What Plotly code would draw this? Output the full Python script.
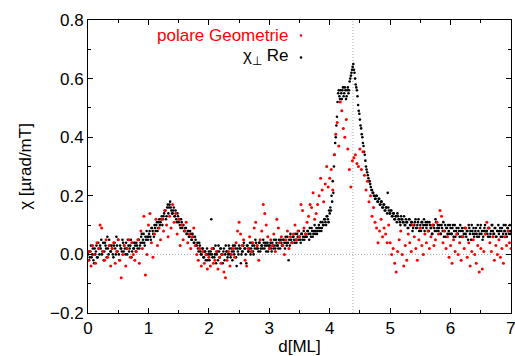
import numpy as np
import plotly.graph_objects as go

# ---------------- data ----------------
# chi_perp Re, sampled on d = 0.00, 0.02, ... 7.00
black_start_a, black_step = 0.0, 0.02
black_chi_a = [
    0.00, -0.02, 0.01, -0.01, 0.02, -0.03, 0.00, 0.03, -0.01, 0.02,
    0.03, 0.05, 0.01, -0.02, 0.04, 0.02, 0.06, 0.00, 0.03, 0.01,
    0.02, -0.01, 0.04, 0.00, 0.03, 0.05, -0.02, 0.02, 0.01, 0.04,
    0.03, 0.00, 0.02, 0.05, 0.01, 0.03, -0.01, 0.04, 0.02, 0.03,
    0.04, 0.02, 0.05, 0.03, 0.06, 0.04, 0.07, 0.03, 0.05, 0.06,
    0.06, 0.08, 0.05, 0.09, 0.07, 0.10, 0.08, 0.11, 0.09, 0.12,
    0.11, 0.13, 0.12, 0.14, 0.15, 0.13, 0.17, 0.16, 0.18, 0.15,
    0.14, 0.16, 0.13, 0.12, 0.14, 0.11, 0.10, 0.12, 0.09, 0.10,
    0.08, 0.09, 0.07, 0.08, 0.06, 0.07, 0.05, 0.06, 0.04, 0.05,
    0.03, 0.02, 0.04, 0.01, 0.00, 0.02, -0.01, 0.01, 0.00, -0.02,
    0.01, 0.00, 0.12, -0.01, 0.02, 0.00, -0.03, 0.01, 0.03, -0.01,
    0.02, 0.00, 0.01, -0.02, 0.03, 0.01, 0.00, 0.02, -0.01, 0.01,
    0.03, 0.00, 0.02, -0.04, 0.01, 0.03, 0.02, 0.00, 0.01, 0.04,
    0.02, -0.03, 0.03, 0.01, 0.04, 0.02, 0.03, 0.00, 0.02, 0.04,
    0.03, 0.01, 0.04, 0.02, 0.03, 0.05, 0.02, 0.04, 0.03, 0.01,
    0.02, 0.04, 0.01, 0.03, 0.05, 0.02, 0.04, 0.03, 0.05, 0.02,
    0.04, 0.03, 0.05, 0.02, 0.04, 0.06, -0.02, 0.03, 0.05, 0.04,
    0.06, 0.04, 0.05, 0.07, 0.05, 0.06, 0.04, 0.07, 0.06, 0.05,
    0.07, 0.06, 0.08, 0.05, 0.07, 0.09, 0.06, 0.08, 0.07, 0.09,
    0.08, 0.10, 0.09, 0.08, 0.11, 0.10, 0.12, 0.10, 0.13, 0.11,
    0.14, 0.15, 0.18, 0.21, 0.34, 0.40, 0.47, 0.55, 0.54, 0.56,
    0.53, 0.57, 0.55, 0.56, 0.54, 0.57, 0.56, 0.60, 0.62, 0.64,
    0.63, 0.60, 0.57, 0.54, 0.49, 0.46, 0.43, 0.40, 0.37, 0.34,
    0.30, 0.28, 0.26, 0.25, 0.23, 0.22, 0.21, 0.20, 0.19, 0.20,
    0.18, 0.19, 0.17, 0.18, 0.16, 0.17, 0.15, 0.16, 0.21, 0.15,
    0.14, 0.15, 0.13, 0.14, 0.12, 0.13, 0.14, 0.12, 0.11, 0.13,
    0.12, 0.11, 0.10, 0.12, 0.11, 0.09, 0.12, 0.10, 0.11, 0.09,
    0.10, 0.12, 0.09, 0.11, 0.08, 0.10, 0.11, 0.09, 0.12, 0.10,
    0.09, 0.11, 0.08, 0.10, 0.09, 0.07, 0.10, 0.08, 0.11, 0.09,
    0.08, 0.10, 0.07, 0.09, 0.11, 0.08, 0.06, 0.09, 0.10, 0.07,
    0.09, 0.07, 0.10, 0.08, 0.06, 0.09, 0.07, 0.08, 0.10, 0.06,
    0.08, 0.07, 0.09, 0.06, 0.08, 0.10, 0.07, 0.05, 0.08, 0.09,
    0.07, 0.09, 0.06, 0.08, 0.07, 0.10, 0.08, 0.06, 0.09, 0.07,
    0.08, 0.06, 0.09, 0.07, 0.10, 0.08, 0.07, 0.09, 0.06, 0.08,
    0.07, 0.09, 0.08, 0.06, 0.10, 0.08, 0.07, 0.09, 0.08, 0.10, 0.07,
]
# chi_perp Re, interleaved samples on d = 0.01, 0.03, ... 6.99
black_start_b = 0.01
black_chi_b = [
    0.01, -0.01, 0.03, 0.00, -0.02, 0.02, 0.01, -0.01, 0.04, 0.00,
    0.02, 0.00, 0.04, 0.01, 0.03, -0.01, 0.02, 0.05, 0.01, 0.03,
    0.00, 0.03, 0.02, 0.06, 0.01, 0.00, 0.03, 0.02, 0.05, 0.01,
    0.02, 0.04, 0.00, 0.03, 0.02, 0.05, 0.01, 0.02, 0.04, 0.01,
    0.03, 0.05, 0.02, 0.04, 0.07, 0.05, 0.04, 0.06, 0.08, 0.05,
    0.07, 0.06, 0.09, 0.08, 0.06, 0.09, 0.10, 0.08, 0.11, 0.10,
    0.12, 0.10, 0.13, 0.15, 0.12, 0.16, 0.14, 0.17, 0.16, 0.14,
    0.15, 0.13, 0.15, 0.11, 0.13, 0.12, 0.09, 0.11, 0.10, 0.08,
    0.09, 0.07, 0.08, 0.06, 0.08, 0.05, 0.07, 0.04, 0.06, 0.03,
    0.04, 0.01, 0.03, 0.00, 0.02, -0.01, 0.01, -0.02, 0.02, 0.00,
    -0.02, 0.01, 0.00, 0.02, -0.01, 0.03, 0.00, -0.02, 0.01, 0.02,
    0.00, -0.03, 0.02, 0.00, 0.01, -0.01, 0.03, 0.00, 0.02, -0.02,
    0.01, 0.03, -0.01, 0.02, 0.00, 0.02, -0.03, 0.01, 0.03, 0.02,
    0.00, 0.03, 0.01, 0.02, 0.00, 0.04, 0.01, 0.03, 0.05, 0.02,
    0.02, 0.04, 0.01, 0.03, 0.02, 0.04, 0.03, 0.01, 0.04, 0.03,
    0.03, 0.02, 0.04, 0.02, 0.03, 0.05, 0.03, 0.02, 0.04, 0.05,
    0.03, 0.05, 0.04, 0.06, 0.03, 0.04, 0.05, 0.07, 0.04, 0.06,
    0.05, 0.07, 0.04, 0.06, 0.08, 0.05, 0.07, 0.05, 0.08, 0.06,
    0.06, 0.08, 0.07, 0.09, 0.06, 0.08, 0.07, 0.10, 0.08, 0.07,
    0.09, 0.08, 0.11, 0.09, 0.10, 0.12, 0.11, 0.13, 0.12, 0.15,
    0.16, 0.20, 0.25, 0.30, 0.38, 0.44, 0.52, 0.56, 0.53, 0.55,
    0.56, 0.54, 0.57, 0.53, 0.56, 0.55, 0.59, 0.61, 0.63, 0.65,
    0.62, 0.58, 0.56, 0.51, 0.48, 0.44, 0.41, 0.38, 0.35, 0.32,
    0.29, 0.27, 0.25, 0.24, 0.22, 0.21, 0.20, 0.19, 0.20, 0.18,
    0.19, 0.17, 0.18, 0.16, 0.17, 0.15, 0.16, 0.14, 0.16, 0.14,
    0.15, 0.13, 0.14, 0.12, 0.13, 0.11, 0.13, 0.12, 0.10, 0.12,
    0.11, 0.13, 0.10, 0.11, 0.09, 0.12, 0.10, 0.11, 0.08, 0.10,
    0.11, 0.09, 0.10, 0.12, 0.09, 0.08, 0.11, 0.10, 0.08, 0.11,
    0.10, 0.08, 0.11, 0.09, 0.07, 0.10, 0.09, 0.12, 0.08, 0.10,
    0.09, 0.07, 0.10, 0.08, 0.06, 0.10, 0.09, 0.07, 0.08, 0.10,
    0.07, 0.09, 0.06, 0.10, 0.08, 0.07, 0.09, 0.06, 0.08, 0.09,
    0.06, 0.09, 0.07, 0.08, 0.05, 0.09, 0.08, 0.10, 0.07, 0.06,
    0.08, 0.07, 0.10, 0.06, 0.09, 0.07, 0.05, 0.08, 0.10, 0.08,
    0.07, 0.09, 0.06, 0.08, 0.10, 0.07, 0.09, 0.06, 0.08, 0.10,
    0.08, 0.06, 0.09, 0.07, 0.08, 0.10, 0.06, 0.09, 0.07, 0.08,
]

# polare Geometrie, sampled on d = 0.000, 0.025, ... 7.000
red_start, red_step = 0.0, 0.025
red_chi = [
    -0.02, 0.01, -0.04, 0.03, 0.00, -0.03, 0.04, 0.02,
    0.10, 0.09, 0.01, -0.02, 0.05, -0.01, 0.03, -0.04,
    0.02, 0.04, -0.03, 0.01, 0.05, -0.02, -0.08, 0.00,
    0.03, -0.04, 0.02, 0.05, -0.01, 0.04, 0.00, -0.02,
    0.01, 0.05, -0.03, 0.08, 0.02, 0.13, -0.07, 0.00,
    0.10, 0.14, 0.04, -0.01, 0.07, 0.12, 0.03, 0.09,
    0.05, 0.12, 0.08, 0.15, 0.10, 0.06, 0.13, 0.09,
    0.17, 0.11, 0.14, 0.07, 0.12, 0.03, 0.10, 0.05,
    0.08, 0.11, 0.04, 0.07, 0.02, 0.06, 0.09, 0.03,
    0.00, -0.02, 0.02, -0.04, 0.01, -0.03, 0.00, -0.05,
    -0.01, -0.04, 0.02, -0.03, -0.02, 0.01, -0.05, -0.01,
    -0.03, 0.00, -0.06, -0.08, -0.02, 0.01, -0.04, 0.00,
    0.02, -0.01, 0.04, 0.08, 0.11, 0.07, 0.03, 0.05,
    -0.02, -0.04, 0.02, 0.06, 0.01, 0.04, 0.09, 0.11,
    0.03, -0.02, 0.05, 0.08, 0.17, 0.14, 0.10, 0.06,
    0.02, 0.05, 0.03, 0.07, 0.01, 0.12, 0.09, 0.04,
    0.06, 0.03, 0.00, 0.05, 0.08, 0.02, 0.06, 0.04,
    0.07, 0.10, 0.05, 0.08, 0.06, 0.17, 0.15, 0.09,
    0.07, 0.11, 0.13, 0.17, 0.16, 0.21, 0.12, 0.14,
    0.17, 0.20, 0.26, 0.22, 0.18, 0.24, 0.30, 0.23,
    0.26, 0.29, 0.22, 0.34, 0.41, 0.45, 0.37, 0.52,
    0.49, 0.43, 0.40, 0.46, 0.36, 0.29, 0.23, 0.32,
    0.33, 0.34, 0.31, 0.30, 0.36, 0.29, 0.35, 0.27,
    0.22, 0.25, 0.18, 0.20, 0.13, 0.16, 0.11, 0.09,
    0.04, 0.08, 0.12, 0.06, 0.09, 0.07, 0.04, 0.10,
    0.04, 0.00, 0.02, -0.03, -0.06, 0.01, 0.05, 0.08,
    0.00, -0.04, 0.03, -0.02, 0.07, 0.04, 0.01, 0.10,
    0.06, 0.02, -0.02, 0.05, 0.09, 0.03, 0.00, 0.07,
    0.04, 0.08, 0.02, 0.06, 0.10, 0.03, 0.05, 0.11,
    0.07, 0.15, 0.13, 0.04, 0.08, 0.02, 0.06, -0.01,
    0.03, -0.03, 0.05, 0.01, 0.07, 0.00, 0.04, -0.02,
    0.06, 0.02, 0.09, -0.01, 0.04, -0.04, 0.01, 0.05,
    0.00, -0.03, 0.03, -0.06, 0.02, -0.05, 0.01, 0.07,
    0.11, 0.09, 0.04, 0.01, 0.06, -0.02, 0.03, 0.00,
    0.05, -0.01, 0.02, -0.03, 0.06, 0.03, 0.08, 0.04, 0.02,
]

peak_position = 4.385
series_names = ["polare Geometrie", "χ<sub>⊥</sub> Re"]
x_ticks = [0, 1, 2, 3, 4, 5, 6, 7]
y_ticks = [-0.2, 0.0, 0.2, 0.4, 0.6, 0.8]

# ---------------- figure ----------------
black_d = np.concatenate([
    np.round(black_start_a + black_step * np.arange(len(black_chi_a)), 4),
    np.round(black_start_b + black_step * np.arange(len(black_chi_b)), 4),
])
black_y = list(black_chi_a) + list(black_chi_b)
red_d = np.round(red_start + red_step * np.arange(len(red_chi)), 4)

FONT = "Liberation Sans, Arial, Helvetica, sans-serif"
fig = go.Figure()
fig.add_trace(go.Scatter(x=black_d, y=black_y, mode="markers", name=series_names[1],
                         marker=dict(color="black", size=2.6, line=dict(width=0)),
                         showlegend=False))
fig.add_trace(go.Scatter(x=red_d, y=red_chi, mode="markers", name=series_names[0],
                         marker=dict(color="#ff0000", size=3.0, line=dict(width=0)),
                         showlegend=False))

dotted = dict(color="#a8a8a8", width=1, dash="1px,2px")
fig.add_hline(y=0, line=dotted, layer="below")
fig.add_vline(x=peak_position, line=dotted, layer="below")

L, R, T, B = 88, 4, 19.5, 43
W, H = 515, 356
pw, ph = W - L - R, H - T - B

def px_x(p):
    return (p - L) / pw

def px_y(p):
    return (H - B - p) / ph

legend_rows = [(series_names[0], "#ff0000", 35), (series_names[1], "black", 57)]
for text, col, ypix in legend_rows:
    fig.add_annotation(x=px_x(290), y=px_y(ypix), xref="paper", yref="paper",
                       text=text, showarrow=False, xanchor="right", yanchor="middle",
                       font=dict(family=FONT, size=17, color=col))
    fig.add_shape(type="circle", xref="paper", yref="paper",
                  xsizemode="pixel", ysizemode="pixel",
                  xanchor=px_x(301), yanchor=px_y(ypix),
                  x0=-1.3, x1=1.3, y0=-1.3, y1=1.3,
                  fillcolor=col, line=dict(width=0))

axis_common = dict(showline=True, linecolor="black", linewidth=1, mirror="allticks",
                   ticks="inside", ticklen=5, tickcolor="black", tickwidth=1,
                   showgrid=False, zeroline=False, ticklabeloverflow="allow",
                   tickfont=dict(family=FONT, size=17, color="black"))

fig.update_layout(
    width=W, height=H,
    margin=dict(l=L, r=R, t=T, b=B, autoexpand=False),
    paper_bgcolor="white", plot_bgcolor="white",
    font=dict(family=FONT, size=17, color="black"),
    showlegend=False,
    xaxis=dict(range=[0, 7], tickvals=x_ticks, ticktext=[str(v) for v in x_ticks],
               minor=dict(dtick=0.5, ticks="inside", ticklen=3, tickcolor="black", showgrid=False),
               title=dict(text="d[ML]", font=dict(family=FONT, size=17), standoff=2),
               **axis_common),
    yaxis=dict(range=[-0.2, 0.8], tickvals=y_ticks, tickformat=".1f",
               minor=dict(dtick=0.1, ticks="inside", ticklen=3, tickcolor="black", showgrid=False),
               title=dict(text="χ [µrad/mT]", font=dict(family=FONT, size=17), standoff=14),
               **axis_common),
)

fig.write_html("out.html")
